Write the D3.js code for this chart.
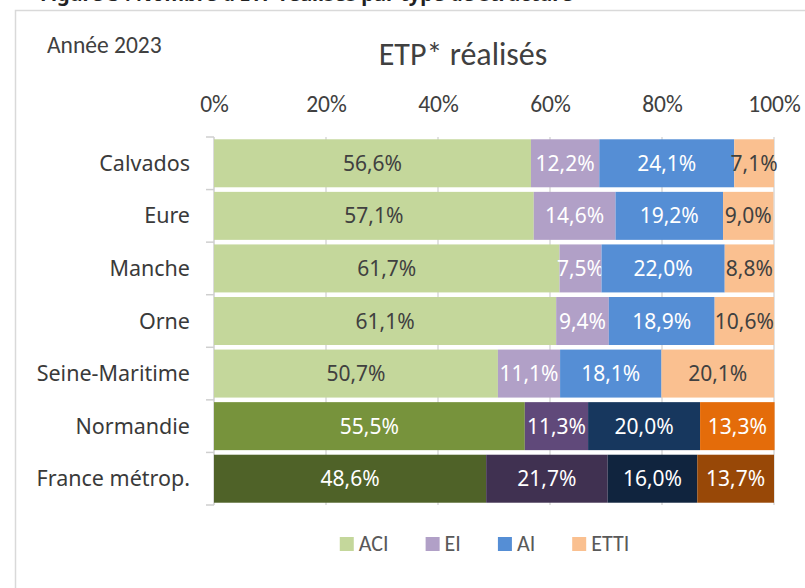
<!DOCTYPE html>
<html>
<head>
<meta charset="utf-8">
<script src="https://cdn.jsdelivr.net/npm/d3@7"></script>
<style>
  body { margin: 0; background: #fff; }
  svg { display: block; }
</style>
</head>
<body>
<div class="chart"></div>
<script>
// data
const categories = ['Calvados', 'Eure', 'Manche', 'Orne', 'Seine-Maritime', 'Normandie', 'France métrop.'];
const seriesNames = ['ACI', 'EI', 'AI', 'ETTI'];
const aci = [56.6, 57.1, 61.7, 61.1, 50.7, 55.5, 48.6];
const ei = [12.2, 14.6, 7.5, 9.4, 11.1, 11.3, 21.7];
const ai = [24.1, 19.2, 22.0, 18.9, 18.1, 20.0, 16.0];
const etti = [7.1, 9.0, 8.8, 10.6, 20.1, 13.3, 13.7];
const xTicks = [0, 20, 40, 60, 80, 100];

const width = 805;
const height = 588;

// colours: departments (light), Normandie (medium), France (dark)
const palette = {
  ACI: ['#c4d79b', '#77933c', '#4f6228'],
  EI: ['#b1a0c7', '#60497a', '#403151'],
  AI: ['#558ed5', '#17375e', '#10243e'],
  ETTI: ['#fac090', '#e46c0a', '#984807']
};
const lightText = { ACI: '#404040', EI: '#fff', AI: '#fff', ETTI: '#404040' };
const shade = (i) => (i < 5 ? 0 : i === 5 ? 1 : 2);

const calibri = "Carlito, Lato, 'Liberation Sans', sans-serif";
const marianne = "'Noto Sans', 'DejaVu Sans', sans-serif";

const rows = categories.map((c, i) => ({
  name: c, ACI: aci[i], EI: ei[i], AI: ai[i], ETTI: etti[i], idx: i
}));
const stacked = d3.stack().keys(seriesNames)(rows);

const svg = d3
  .select('.chart')
  .append('svg')
  .attr('width', width)
  .attr('height', height);

// frame
svg
  .append('rect')
  .attr('x', 15.5)
  .attr('y', 10.5)
  .attr('width', 820)
  .attr('height', 600)
  .attr('fill', 'none')
  .attr('stroke', '#d9d9d9')
  .attr('stroke-width', 1.5);

// figure caption, cut by the top edge as in the source
svg
  .append('text')
  .attr('x', 40)
  .attr('y', 1)
  .attr('font-family', marianne)
  .attr('font-weight', 'bold')
  .attr('font-size', '20px')
  .attr('fill', '#222')
  .text('Figure 3 : Nombre d’ETP réalisés par type de structure');

svg
  .append('text')
  .attr('x', 47)
  .attr('y', 53)
  .attr('font-family', calibri)
  .attr('font-size', '23.5px')
  .attr('fill', '#404040')
  .text('Année 2023');

svg
  .append('text')
  .attr('x', 463)
  .attr('y', 65)
  .attr('text-anchor', 'middle')
  .attr('font-family', calibri)
  .attr('font-size', '32px')
  .attr('fill', '#404040')
  .text('ETP* réalisés');

const xScale = d3.scaleLinear().domain([0, 100]).range([214, 774]);
const yScale = d3
  .scaleBand()
  .domain(categories)
  .range([137, 505])
  .paddingInner(0.087)
  .paddingOuter(0.0435);

// grid lines
svg
  .append('g')
  .selectAll('line')
  .data(xTicks)
  .join('line')
  .attr('x1', (d) => xScale(d))
  .attr('x2', (d) => xScale(d))
  .attr('y1', 137)
  .attr('y2', 505)
  .attr('stroke', (d) => (d === 0 ? '#cfcfcf' : '#d9d9d9'))
  .attr('stroke-width', 1.5);

// y tick marks at category boundaries
const step = yScale.step();
const bounds = categories.map((c) => yScale(c) - (step - yScale.bandwidth()) / 2);
bounds.push(bounds[bounds.length - 1] + step);
svg
  .append('g')
  .selectAll('line')
  .data(bounds)
  .join('line')
  .attr('x1', 206)
  .attr('x2', 214)
  .attr('y1', (d) => d)
  .attr('y2', (d) => d)
  .attr('stroke', '#cfcfcf')
  .attr('stroke-width', 1.5);

// top axis labels
const xAxis = d3
  .axisTop(xScale)
  .tickValues(xTicks)
  .tickSize(0)
  .tickPadding(0)
  .tickFormat((d) => d + '%');
const xg = svg.append('g').attr('transform', 'translate(0,112)').call(xAxis);
xg.select('.domain').remove();
xg.selectAll('text')
  .attr('font-family', calibri)
  .attr('font-size', '23.5px')
  .attr('fill', '#404040')
  .attr('dy', 0);

// category labels
svg
  .append('g')
  .selectAll('text')
  .data(categories)
  .join('text')
  .attr('x', 190)
  .attr('y', (d) => yScale(d) + yScale.bandwidth() / 2)
  .attr('dy', '0.35em')
  .attr('text-anchor', 'end')
  .attr('font-family', marianne)
  .attr('font-size', '21.5px')
  .attr('fill', '#3a3a3a')
  .text((d) => d);

// bars
const fmt = (v) => v.toFixed(1).replace('.', ',') + '%';
stacked.forEach((layer) => {
  const key = layer.key;
  const g = svg.append('g');
  g.selectAll('rect')
    .data(layer)
    .join('rect')
    .attr('x', (d) => xScale(d[0]))
    .attr('y', (d) => yScale(d.data.name))
    .attr('width', (d) => xScale(d[1]) - xScale(d[0]))
    .attr('height', yScale.bandwidth())
    .attr('fill', (d) => palette[key][shade(d.data.idx)]);
  g.selectAll('text')
    .data(layer)
    .join('text')
    .attr('x', (d) => xScale((d[0] + d[1]) / 2))
    .attr('y', (d) => yScale(d.data.name) + yScale.bandwidth() / 2)
    .attr('dy', '0.36em')
    .attr('text-anchor', 'middle')
    .attr('font-family', marianne)
    .attr('font-size', '21px')
    .attr('fill', (d) => (shade(d.data.idx) === 0 ? lightText[key] : '#fff'))
    .text((d) => fmt(d.data[key]));
});

// legend
const legend = svg.append('g');
let lx = 0;
seriesNames.forEach((name) => {
  const item = legend.append('g').attr('transform', `translate(${lx},0)`);
  item
    .append('rect')
    .attr('x', 0)
    .attr('y', 537)
    .attr('width', 14)
    .attr('height', 14)
    .attr('fill', palette[name][0]);
  const t = item
    .append('text')
    .attr('x', 19)
    .attr('y', 551)
    .attr('font-family', calibri)
    .attr('font-size', '22px')
    .attr('fill', '#595959')
    .text(name);
  lx += 19 + t.node().getComputedTextLength() + 37;
});
const legendWidth = lx - 37;
legend.attr('transform', `translate(${484.5 - legendWidth / 2},0)`);
</script>
</body>
</html>
